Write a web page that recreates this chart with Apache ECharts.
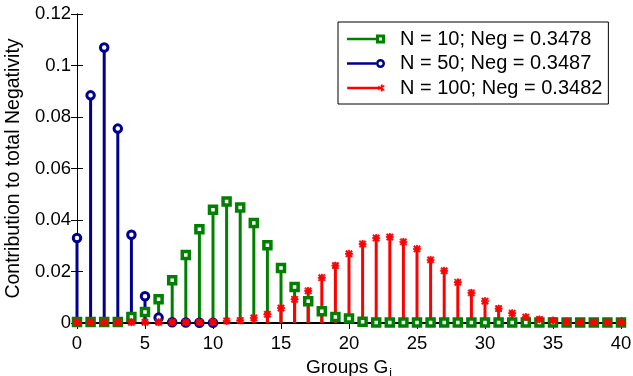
<!DOCTYPE html>
<html>
<head>
<meta charset="utf-8">
<script src="https://cdn.jsdelivr.net/npm/echarts@6/dist/echarts.min.js"></script>
<style>
  html, body { margin: 0; padding: 0; background: #fff; }
  #chart { width: 633px; height: 376px; }
</style>
</head>
<body>
<div id="chart"></div>
<script>
// Group indices G_i
const groups = [0, 1, 2, 3, 4, 5, 6, 7, 8, 9, 10, 11, 12, 13, 14, 15, 16, 17, 18, 19, 20,
  21, 22, 23, 24, 25, 26, 27, 28, 29, 30, 31, 32, 33, 34, 35, 36, 37, 38, 39, 40];
const groupsN50 = [0, 1, 2, 3, 4, 5, 6, 7, 8, 9, 10];

// Contribution of each group to the total negativity
const negN10 = [0.0004, 0.0004, 0.0004, 0.0004, 0.0023, 0.0043, 0.0092, 0.0166, 0.0264, 0.0364,
  0.0440, 0.0472, 0.0449, 0.0388, 0.0302, 0.0214, 0.0140, 0.0084, 0.0046, 0.0023,
  0.0017, 0.0005, 0.0002, 0.0002, 0.0002, 0.0002, 0.0002, 0.0002, 0.0002, 0.0002,
  0.0002, 0.0002, 0.0002, 0.0002, 0.0002, 0.0002, 0.0002, 0.0002, 0.0002, 0.0002, 0.0002];
const negN50 = [0.0330, 0.0884, 0.1070, 0.0755, 0.0343, 0.0104, 0.0021, 0.0003, 0.0002, 0.0001, 0.0001];
const negN100 = [0.0003, 0.0003, 0.0003, 0.0003, 0.0003, 0.0003, 0.0003, 0.0003, 0.0003, 0.0003,
  0.0004, 0.0008, 0.0010, 0.0020, 0.0034, 0.0058, 0.0092, 0.0125, 0.0176, 0.0223,
  0.0269, 0.0307, 0.0330, 0.0334, 0.0315, 0.0288, 0.0245, 0.0203, 0.0158, 0.0117,
  0.0085, 0.0056, 0.0038, 0.0023, 0.0014, 0.0010, 0.0005, 0.0003, 0.0003, 0.0003, 0.0003];

const seriesNames = ['N = 10; Neg = 0.3478', 'N = 50; Neg = 0.3487', 'N = 100; Neg = 0.3482'];
const xTicks = { min: 0, max: 40, step: 5 };
const yTicks = { min: 0, max: 0.12, step: 0.02 };

const GREEN = '#008000';
const BLUE = '#00008f';
const RED = '#ff0000';
const FONT = '"Liberation Sans", Arial, Helvetica, sans-serif';

function pairs(xs, ys) { return xs.map((x, i) => [x, ys[i]]); }

// vertical stem from the baseline up to the value
function stemSeries(data, color) {
  return {
    type: 'custom',
    data: data,
    encode: { x: 0, y: 1 },
    silent: true,
    renderItem: function (params, api) {
      const x = api.value(0), y = api.value(1);
      const p0 = api.coord([x, 0]);
      const p1 = api.coord([x, y]);
      return {
        type: 'line',
        shape: { x1: p0[0], y1: p0[1], x2: p1[0], y2: p1[1] },
        style: { stroke: color, lineWidth: 3 }
      };
    }
  };
}

const asterisk = 'path://M4,0H6V4H10V6H6V10H4V6H0V4H4Z' +
  'M1.5,0.1L9.9,8.5L8.5,9.9L0.1,1.5Z' +
  'M8.5,0.1L9.9,1.5L1.5,9.9L0.1,8.5Z';

// legend keys: line segment with the marker at its right end
const iconN10 = 'path://M0,3.25H29V5.75H0Z M29,0H38V9H29Z M32,3V6H35V3Z';
const iconN50 = 'path://M0,3.25H29V5.75H0Z M29,4.5A4.5,4.5 0 1,1 38,4.5A4.5,4.5 0 1,1 29,4.5Z M31.5,4.5A2,2 0 1,0 35.5,4.5A2,2 0 1,0 31.5,4.5Z';
const iconN100 = 'path://M0,3.25H36V5.75H0Z M33.6,1H35.4V8H33.6Z M31.4,2.2L37.6,6.2L36.8,7.4L30.6,3.4Z M36.8,1.6L37.6,2.8L31.4,6.8L30.6,5.6Z M0,0.01H0.01V0Z M0,9H0.01V8.99Z';

const dN10 = pairs(groups, negN10);
const dN50 = pairs(groupsN50, negN50);
const dN100 = pairs(groups, negN100);

const chart = echarts.init(document.getElementById('chart'), null, { renderer: 'canvas' });

const axisCommon = {
  axisLine: { show: true, lineStyle: { color: '#000', width: 1 } },
  axisTick: { show: true, inside: true, length: 6, lineStyle: { color: '#000' } },
  splitLine: { show: false }
};

const legendKeyStyle = (c) => ({ color: c, borderWidth: 0, opacity: 1 });

chart.setOption({
  animation: false,
  backgroundColor: '#fff',
  textStyle: { fontFamily: FONT },
  grid: { left: 77, right: 12, top: 14, bottom: 53, containLabel: false, outerBoundsMode: 'none' },
  legend: {
    data: [
      { name: seriesNames[0], icon: iconN10, itemStyle: legendKeyStyle(GREEN) },
      { name: seriesNames[1], icon: iconN50, itemStyle: legendKeyStyle(BLUE) },
      { name: seriesNames[2], icon: iconN100, itemStyle: legendKeyStyle(RED) }
    ],
    orient: 'vertical',
    left: 338,
    top: 22,
    itemWidth: 38,
    itemHeight: 9,
    itemGap: 4.5,
    padding: [7, 6, 6, 9],
    backgroundColor: '#fff',
    borderColor: '#000',
    borderWidth: 1,
    borderRadius: 0,
    textStyle: { fontFamily: FONT, fontSize: 20, color: '#000', lineHeight: 20, padding: [0, 0, 0, 10] }
  },
  xAxis: [
    Object.assign({}, axisCommon, {
      type: 'value', position: 'bottom',
      min: xTicks.min, max: xTicks.max, interval: xTicks.step,
      axisLine: { show: true, lineStyle: { color: '#000', width: 2 } },
      axisLabel: { fontFamily: FONT, fontSize: 18.5, color: '#000', margin: 11 },
      name: '{m|Groups G}{s|i}',
      nameLocation: 'middle',
      nameGap: 26,
      nameTextStyle: {
        fontFamily: FONT, fontSize: 19, color: '#000',
        rich: {
          m: { fontFamily: FONT, fontSize: 19, color: '#000' },
          s: { fontFamily: FONT, fontSize: 12, color: '#000', padding: [12, 0, 0, 1] }
        }
      }
    }),
    Object.assign({}, axisCommon, {
      type: 'value', position: 'top',
      min: xTicks.min, max: xTicks.max, interval: xTicks.step,
      axisLabel: { show: false }
    })
  ],
  yAxis: [
    Object.assign({}, axisCommon, {
      type: 'value', position: 'left',
      min: yTicks.min, max: yTicks.max, interval: yTicks.step,
      axisLabel: { fontFamily: FONT, fontSize: 18.5, color: '#000', margin: 6 },
      name: 'Contribution to total Negativity',
      nameLocation: 'middle',
      nameGap: 49,
      nameTextStyle: { fontFamily: FONT, fontSize: 19.5, color: '#000' }
    }),
    Object.assign({}, axisCommon, {
      type: 'value', position: 'right',
      min: yTicks.min, max: yTicks.max, interval: yTicks.step,
      axisLabel: { show: false }
    })
  ],
  series: [
    stemSeries(dN10, GREEN),
    stemSeries(dN50, BLUE),
    stemSeries(dN100, RED),
    {
      name: seriesNames[0], type: 'scatter', data: dN10,
      symbol: 'rect', symbolSize: 7,
      itemStyle: { color: '#fff', borderColor: GREEN, borderWidth: 3.5, opacity: 1 },
      emphasis: { disabled: true }
    },
    {
      name: seriesNames[1], type: 'scatter', data: dN50,
      symbol: 'circle', symbolSize: 7.5,
      itemStyle: { color: '#fff', borderColor: BLUE, borderWidth: 3, opacity: 1 },
      emphasis: { disabled: true }
    },
    {
      name: seriesNames[2], type: 'scatter', data: dN100,
      symbol: asterisk, symbolSize: 7,
      itemStyle: { color: RED, borderColor: RED, borderWidth: 0.8, opacity: 1 },
      emphasis: { disabled: true }
    }
  ]
});
</script>
</body>
</html>
